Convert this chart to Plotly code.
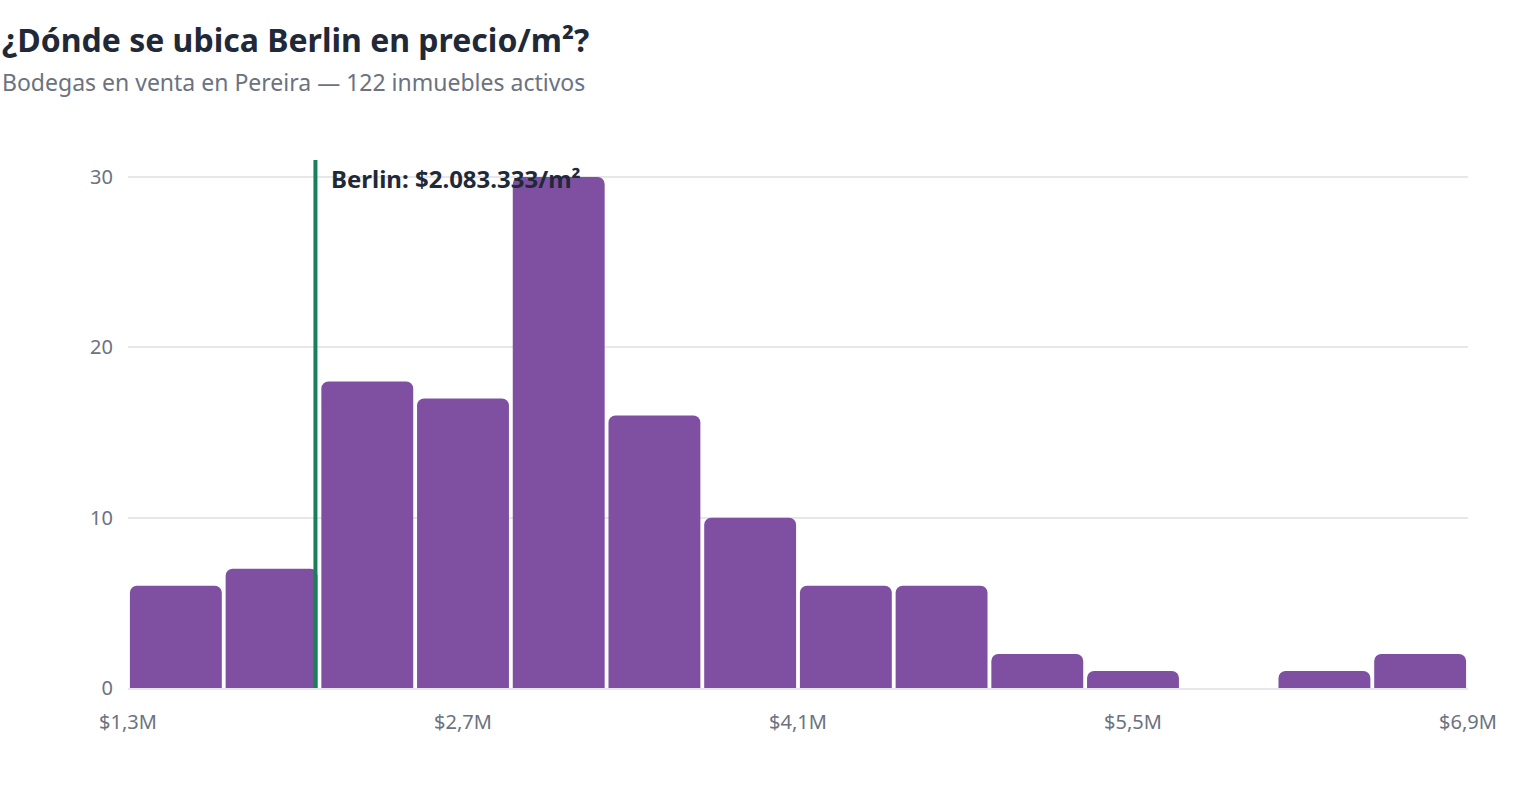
import plotly.graph_objects as go

bin_start = 1.3e6
bin_width = 0.4e6
counts = [6, 7, 18, 17, 30, 16, 10, 6, 6, 2, 1, 0, 1, 2]
tick_vals = [1.3e6, 2.7e6, 4.1e6, 5.5e6, 6.9e6]
tick_text = ["$1,3M", "$2,7M", "$4,1M", "$5,5M", "$6,9M"]
berlin_price = 2083333
berlin_label = "Berlin: $2.083.333/m²"
title_text = "¿Dónde se ubica Berlin en precio/m²?"
subtitle_text = "Bodegas en venta en Pereira — 122 inmuebles activos"

centers = [bin_start + bin_width * (i + 0.5) for i in range(len(counts))]

FONT = "Noto Sans"
fig = go.Figure()
fig.add_trace(go.Bar(
    x=centers, y=counts, width=bin_width * 0.96,
    marker=dict(color="#7f50a2", line=dict(width=0)),
    hoverinfo="skip",
))

fig.add_shape(type="line", xref="x", yref="paper",
              x0=berlin_price, x1=berlin_price, y0=0, y1=1,
              line=dict(color="#188058", width=4))

fig.add_annotation(x=berlin_price, y=30, xref="x", yref="y",
                   text="<b>" + berlin_label + "</b>", showarrow=False,
                   xanchor="left", yanchor="middle", xshift=14, yshift=-1,
                   font=dict(family=FONT, size=24, color="#1f2937"))

W, H = 1520, 800
L, R, T, B = 128, 52, 160, 112
pw, ph = W - L - R, H - T - B

def px_x(x):
    return (x - L) / pw

def px_y(y):
    return (H - B - y) / ph

fig.add_annotation(x=px_x(0), y=px_y(40), xref="paper", yref="paper",
                   text="<b>" + title_text + "</b>", showarrow=False,
                   xanchor="left", yanchor="middle",
                   font=dict(family=FONT, size=32, color="#1f2937"))
fig.add_annotation(x=px_x(0), y=px_y(82), xref="paper", yref="paper",
                   text=subtitle_text, showarrow=False,
                   xanchor="left", yanchor="middle",
                   font=dict(family=FONT, size=23, color="#6b7280"))

fig.update_layout(
    width=W, height=H,
    margin=dict(l=L, r=R, t=T, b=B, pad=0),
    plot_bgcolor="white", paper_bgcolor="white",
    showlegend=False, barcornerradius=7,
    font=dict(family=FONT, color="#6b7280", size=17),
)
fig.update_xaxes(range=[1.3e6, 6.9e6], tickvals=tick_vals, ticktext=tick_text,
                 showgrid=False, showline=True, linecolor="#e5e7eb", linewidth=2,
                 ticks="", ticklabelstandoff=15, zeroline=False,
                 tickfont=dict(family=FONT, size=20, color="#6b7280"))
fig.update_yaxes(range=[0, 31], tickvals=[0, 10, 20, 30],
                 showgrid=True, gridcolor="#e5e7eb", gridwidth=1.5,
                 zeroline=False, showline=False, ticks="", ticklabelstandoff=14,
                 tickfont=dict(family=FONT, size=20, color="#6b7280"))

fig.write_html("out.html")
